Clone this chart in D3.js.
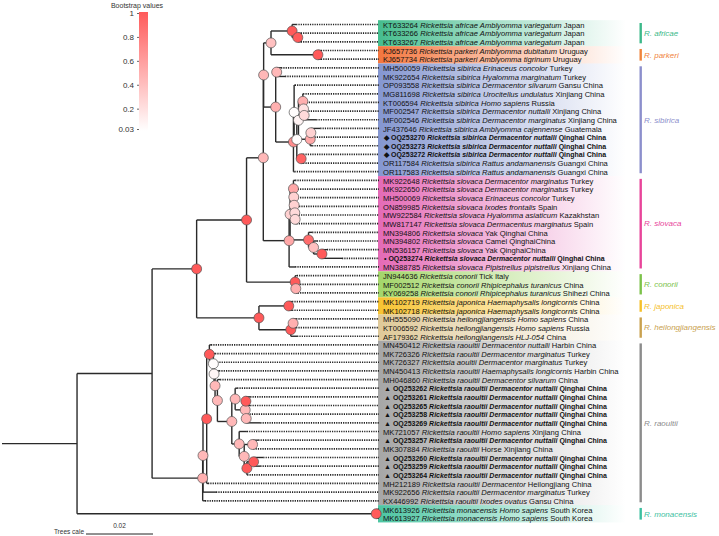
<!DOCTYPE html>
<html><head><meta charset="utf-8">
<script src="https://cdn.jsdelivr.net/npm/d3@7"></script>
<style>body{margin:0;background:#fff}svg{display:block;font-family:"Liberation Sans",Arial,sans-serif}text{white-space:pre}</style>
</head><body>
<svg id="chart" width="719" height="536"></svg>
<script>
// ---------- DATA ----------
const accessions = ["KT633264","KT633266","KT633267","KJ657736","KJ657734","MH500059","MK922654","OP093558","MG811698","KT006594","MF002547","MF002546","JF437646","OQ253270","OQ253273","OQ253272","OR117584","OR117583","MK922648","MK922650","MH500069","ON859985","MW922584","MW817147","MN394806","MN394802","MN536157","OQ253274","MN388785","JN944636","MF002512","KY069258","MK102719","MK102718","MH555090","KT006592","AF179362","MN450412","MK726326","MK726327","MN450413","MH046860","OQ253262","OQ253261","OQ253265","OQ253258","OQ253269","MK721057","OQ253257","MK307884","OQ253260","OQ253259","OQ253264","MH212189","MK922656","KX446992","MK613926","MK613927"];
const species = ["africae","africae","africae","parkeri","parkeri","sibirica","sibirica","sibirica","sibirica","sibirica","sibirica","sibirica","sibirica","sibirica","sibirica","sibirica","sibirica","sibirica","slovaca","slovaca","slovaca","slovaca","slovaca","slovaca","slovaca","slovaca","slovaca","slovaca","slovaca","conorii","conorii","conorii","japonica","japonica","heilongjiangensis","heilongjiangensis","heilongjiangensis","raoultii","raoultii","aoultii","raoultii","raoultii","raoultii","raoultii","raoultii","raoultii","raoultii","raoultii","raoultii","raoultii","raoultii","raoultii","raoultii","raoultii","raoultii","raoultii","monacensis","monacensis"];
const hosts = ["Amblyomma variegatum","Amblyomma variegatum","Amblyomma variegatum","Amblyomma dubitatum","Amblyomma tigrinum","Erinaceus concolor","Hyalomma marginatum","Dermacentor silvarum","Urocitellus undulatus","Homo sapiens","Dermacentor nuttalli","Dermacentor marginatus","Amblyomma cajennense","Dermacentor nuttalli","Dermacentor nuttalli","Dermacentor nuttalli","Rattus andamanensis","Rattus andamanensis","Dermacentor marginatus","Dermacentor marginatus","Erinaceus concolor","Ixodes frontalis","Hyalomma asiaticum","Dermacentus marginatus","Yak","Camel","Yak","Dermacentor nuttalli","Pipistrellus pipistrellus","Tick","Rhipicephalus turanicus","Rhipicephalus turanicus","Haemaphysalis longicornis","Haemaphysalis longicornis","Homo sapiens","Homo sapiens","HLJ-054","Dermacentor nuttalli","Dermacentor marginatus","Dermacentor marginatus","Haemaphysalis longicornis","Dermacentor silvarum","Dermacentor nuttalli","Dermacentor nuttalli","Dermacentor nuttalli","Dermacentor nuttalli","Dermacentor nuttalli","Homo sapiens","Dermacentor nuttalli","Horse","Dermacentor nuttalli","Dermacentor nuttalli","Dermacentor nuttalli","Dermacentor","Dermacentor marginatus","Ixodes ovatus","Homo sapiens","Homo sapiens"];
const plainHosts = ["Yak","Camel","Tick","Horse"];
const places = ["Japan","Japan","Japan","Uruguay","Uruguay","Turkey","Turkey","Gansu China","Xinjiang China","Russia","Xinjiang China","Xinjiang China","Guatemala","Qinghai China","Qinghai China","Qinghai China","Guangxi China","Guangxi China","Turkey","Turkey","Turkey","Spain","Kazakhstan","Spain","Qinghai China","QinghaiChina","QinghaiChina","Qinghai China","Xinjiang China","Italy","China","Shihezi China","China","China","China","Russia","China","Harbin China","Turkey","Turkey","Harbin China","China","Qinghai China","Qinghai China","Qinghai China","Qinghai China","Qinghai China","Xinjiang China","Qinghai China","Xinjiang China","Qinghai China","Qinghai China","Qinghai China","Heilongjiang China","Turkey","Gansu China","South Korea","South Korea"];
// markers for the new sequences (index 1-based : symbol)
const markedLeaves = {14:"◆",15:"◆",16:"◆",28:"•",43:"▲",44:"▲",45:"▲",46:"▲",47:"▲",49:"▲",51:"▲",52:"▲",53:"▲"};

// tree (Newick, leaf names = label index, internal labels = bootstrap support)
const cladeAP = "((1:0.0012,(2:0.0009,3:0.0009)1:0.0017)1:0.0063,(4:0.0009,5:0.0009)1:0.0140)0.4:0.0022";
const cladeSibirica = "((6:0.0013,7:0.0025)0.45:0.0003,((8:0.0002,(((9:0.0001,(10:0.0002,(11:0.0006,12:0.0036)0.25:0.0002)0.2:0.0002)0.5:0.0013,((13:0.0028,14:0.0004)0.3:0.0002,15:0.0006)0.55:0.0035)0.1:0.0005,(16:0.0006,17:0.0006)0.95:0.0013)0.05:0.0008)0.05:0.0002,18:0.0003)0.7:0.0053)0.5:0.0036";
const cladeSlovaca = "(((19:0.0005,(20:0.0005,(21:0.0004,(22:0.0006,(23:0.0004,24:0.0004)0.25:0.0001)0.25:0.0002)0.3:0.0001)0.3:0.0001)0.55:0.0010,(25:0.0011,(26:0.0010,(27:0.0015,28:0.0060)1:0.0025)0.4:0.0015)0.9:0.0055)0.3:0.0003,29:0.0018)0.55:0.0077";
const cladeConorii = "(30:0.0005,(31:0.0006,32:0.0006)0.5:0.0002)1:0.0145";
const cladeJapHei = "((33:0.001,34:0.001)1:0.0089,((35:0.0009,36:0.0009)0.5:0.0007,37:0.0019)1:0.0095)1:0.0186";
const cladeRaoultiiCore = "((43:0.0006,((44:0.0013,45:0.0013)1:0.0002,(46:0.0003,47:0.0042)0.45:0.0003)0.45:0.003)0.45:0.001,(48:0.0023,((49:0.0017,50:0.0002)0.45:0.0025,((51:0.0029,52:0.002)1:0.002,53:0.0001)1:0.0008)0.45:0.0015)0.45:0.0022)0.45:0.0043";
const cladeRaoultii = "((((38:0.0005,(39:0.0005,(40:0.0009,(41:0.0012,(42:0.0008," + cladeRaoultiiCore + ")0.45:0.0007)0.45:0.0003)0.08:0.0002)0.05:0.0012)1:0.0008,54:0.0004)1:0.0011,55:0.0039)0.45:0.0001,56:0.0007)0.5:0.0151";
const cladeMonacensis = "(57:0.0006,58:0.0006)1:0.0893";
const newick = "(((((((" + cladeAP + "," + cladeSibirica + ")0.45:0.0001," + cladeSlovaca + ")0.45:0.0050," + cladeConorii + ")1:0.0149," + cladeJapHei + ")1:0.0133," + cladeRaoultii + "):0.0224," + cladeMonacensis + "):0.0224);";

const groupNames = ["R. africae","R. parkeri","R. sibirica","R. slovaca","R. conorii","R. japonica","R. heilongjiangensis","R. raoultii","R. monacensis"];
const groupFirst = [1,4,6,19,30,33,35,38,57];
const groupLast = [3,5,18,29,32,34,37,56,58];
const groupColors = ["#3cb98a","#f0843c","#8c8fcc","#e8449a","#7cc24a","#f5c02a","#c9a14f","#8c8c8c","#3cc0a0"];
const bandColors = ["#45bd8e","#f4763e","#8496d0","#e46ab6","#a3d66a","#f7c331","#dfc998","#a6a6a6","#4cc5a2"];

const legendTicks = [1,0.8,0.6,0.4,0.2,0.03];
const scaleBarValue = 0.02;

// ---------- PARSER ----------
function parseNewick(s){
  let i=0;
  function node(){
    const n={name:"",length:0,children:null};
    if(s[i]==="("){
      n.children=[]; i++;
      n.children.push(node());
      while(s[i]===","){i++; n.children.push(node());}
      i++;
    }
    let name=""; while(i<s.length && !",():;".includes(s[i])) name+=s[i++];
    n.name=name;
    if(s[i]===":"){i++; let l=""; while(i<s.length && !",();".includes(s[i])) l+=s[i++]; n.length=+l;}
    return n;
  }
  return node();
}

// ---------- DRAW ----------
const svg = d3.select("#chart");
const root = d3.hierarchy(parseNewick(newick), d=>d.children);
root.each(d=>{ d.dist = d.parent ? d.parent.dist + d.data.length : 0; });

const x = d3.scaleLinear().domain([0,1]).range([2,3352]);
const y = d3.scaleLinear().domain([1,58]).range([24.5,518.1]);
const color = d3.scaleLinear().domain([0.03,1]).range(["#ffffff","#ff5a5a"]);
const tipX = 379;

root.eachAfter(d=>{
  if(!d.children) d.yy = y(+d.data.name);
  else d.yy = (d.children[0].yy + d.children[d.children.length-1].yy)/2;
  d.xx = x(d.dist);
});

// label bands
const defs = svg.append("defs");
groupNames.forEach((g,i)=>{
  const gr = defs.append("linearGradient").attr("id","band"+i).attr("x1","0").attr("x2","1").attr("y1","0").attr("y2","0");
  gr.append("stop").attr("offset","0").attr("stop-color",bandColors[i]).attr("stop-opacity",1);
  gr.append("stop").attr("offset","0.45").attr("stop-color",bandColors[i]).attr("stop-opacity",0.5);
  gr.append("stop").attr("offset","1").attr("stop-color",bandColors[i]).attr("stop-opacity",0);
  const step = y(2)-y(1);
  svg.append("rect").attr("x",378).attr("y",y(groupFirst[i])-step/2)
    .attr("width",248).attr("height",(groupLast[i]-groupFirst[i]+1)*step)
    .attr("fill","url(#band"+i+")");
});

// branches
const gl = svg.append("g").attr("stroke","#2a2a2a").attr("stroke-width",1.4).attr("fill","none");
root.descendants().forEach(d=>{
  if(d.children){
    gl.append("line").attr("x1",d.xx).attr("x2",d.xx)
      .attr("y1",d.children[0].yy).attr("y2",d.children[d.children.length-1].yy);
  }
  if(d.parent){
    gl.append("line").attr("x1",d.parent.xx).attr("x2",d.xx).attr("y1",d.yy).attr("y2",d.yy);
  }
});
// dotted leaf extensions
root.leaves().forEach(d=>{
  svg.append("line").attr("x1",d.xx).attr("x2",tipX).attr("y1",d.yy).attr("y2",d.yy)
    .attr("stroke","#222").attr("stroke-width",1.7).attr("stroke-dasharray","1.2 1.1");
});
// support circles
root.descendants().filter(d=>d.children && d.data.name!=="").forEach(d=>{
  svg.append("circle").attr("cx",d.xx).attr("cy",d.yy).attr("r",5)
    .attr("fill",color(+d.data.name)).attr("stroke","#555").attr("stroke-width",0.7);
});

// leaf labels
root.leaves().forEach(d=>{
  const k = +d.data.name, i=k-1;
  const bold = !!markedLeaves[k];
  const t = svg.append("text").attr("x",bold?384:383).attr("y",d.yy+0.6).attr("dy","0.35em")
    .style("font-size",bold?"7px":"7.6px").attr("fill","#111");
  if(bold){ t.style("font-weight","bold"); t.append("tspan").text(markedLeaves[k]+" "); }
  t.append("tspan").text(accessions[i]);
  t.append("tspan").style("font-style","italic").text(" Rickettsia "+species[i]);
  t.append("tspan").style("font-style", plainHosts.includes(hosts[i])?"normal":"italic").text(" "+hosts[i]);
  t.append("tspan").text(" "+places[i]);
});

// group bars & names
groupNames.forEach((g,i)=>{
  const y0=y(groupFirst[i])-1.5, y1=y(groupLast[i])+1.5;
  svg.append("rect").attr("x",639.5).attr("y",y0).attr("width",2.4).attr("height",y1-y0).attr("fill",groupColors[i]);
  svg.append("text").attr("x",644).attr("y",(y0+y1)/2).attr("dy","0.35em")
    .style("font-size","8px").style("font-style","italic").attr("fill",groupColors[i]).text(g);
});

// legend
const lg = defs.append("linearGradient").attr("id","legGrad").attr("x1","0").attr("x2","0").attr("y1","0").attr("y2","1");
d3.range(0,1.001,0.1).forEach(o=>{
  lg.append("stop").attr("offset",o).attr("stop-color",color(1-o*(1-0.03)));
});
const ly = d3.scaleLinear().domain([0.03,1]).range([129,13]);
svg.append("rect").attr("x",139).attr("y",12).attr("width",9).attr("height",119).attr("fill","url(#legGrad)");
const ax = svg.append("g").attr("transform","translate(139,0)")
  .call(d3.axisLeft(ly).tickValues(legendTicks).tickSize(2).tickFormat(d=>String(d)));
ax.select(".domain").remove();
ax.selectAll("text").style("font-size","8px").attr("fill","#333").style("font-family","Liberation Sans, Arial, sans-serif");
ax.selectAll("line").attr("stroke","#666");
svg.append("text").attr("x",137).attr("y",6).attr("dy","0.35em").attr("text-anchor","middle")
  .style("font-size","7px").attr("fill","#333").text("Bootstrap values");

// scale bar
const sb0 = 86, sb1 = sb0 + (x(scaleBarValue)-x(0));
svg.append("line").attr("x1",sb0).attr("x2",sb1).attr("y1",534).attr("y2",534).attr("stroke","#222").attr("stroke-width",1);
svg.append("text").attr("x",(sb0+sb1)/2).attr("y",528).attr("text-anchor","middle").style("font-size","6.5px").attr("fill","#333").text(String(scaleBarValue));
svg.append("text").attr("x",84).attr("y",533).attr("dy","0.1em").attr("text-anchor","end").style("font-size","6.5px").attr("fill","#333").text("Trees cale");
</script></body></html>
